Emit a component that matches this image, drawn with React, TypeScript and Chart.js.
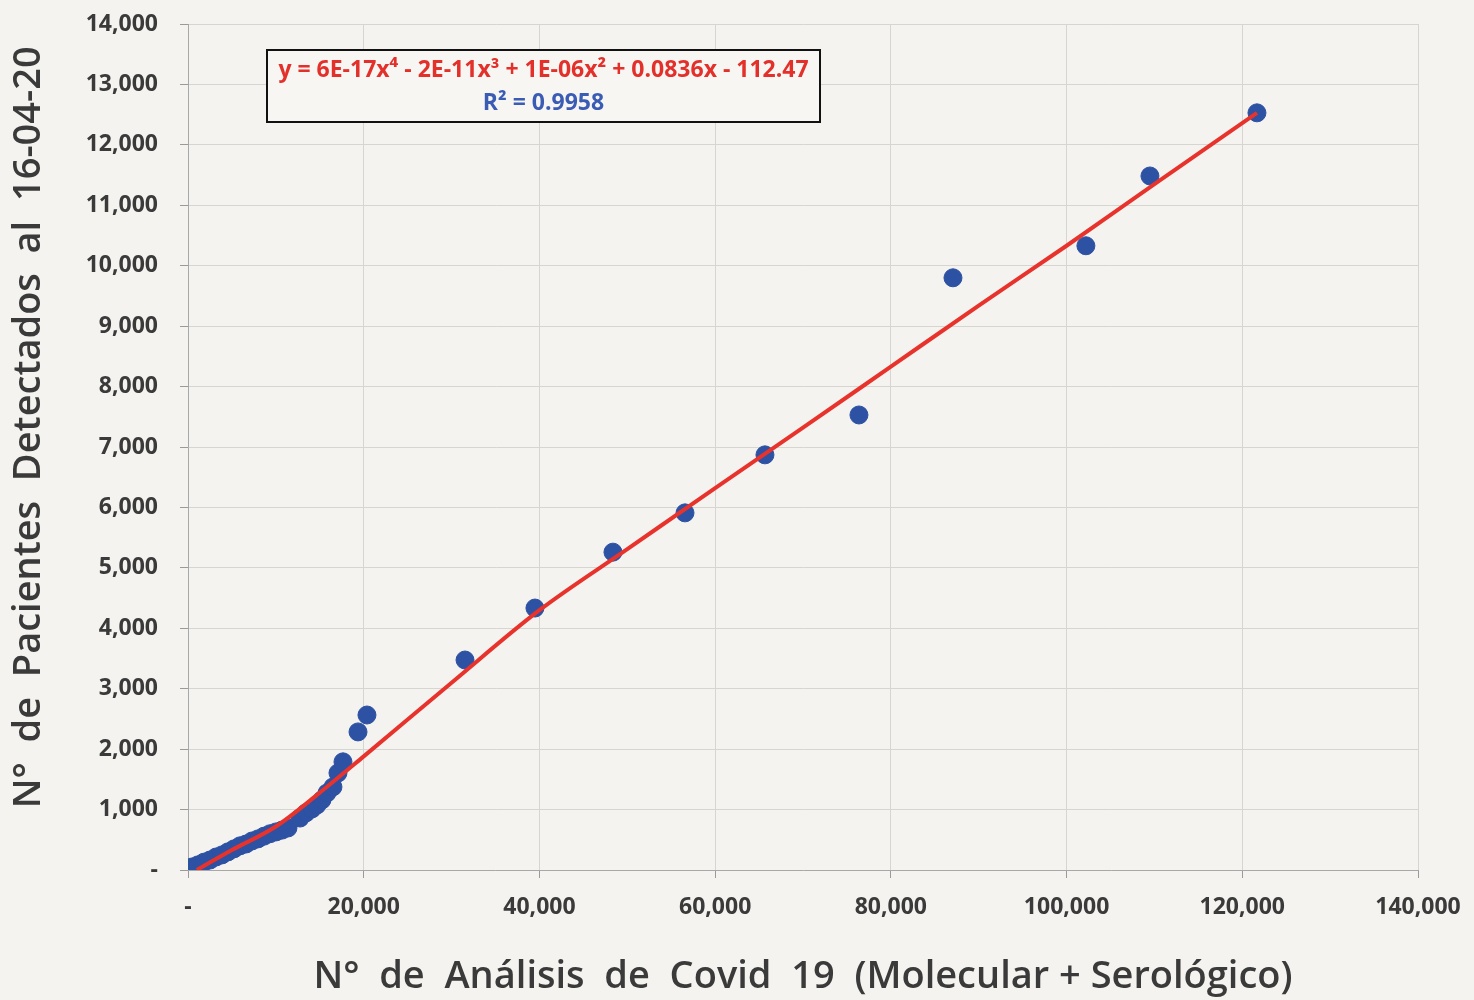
import React, { useEffect, useRef } from "react";
import { Chart, registerables } from "chart.js";

Chart.register(...registerables);

// Observed data points (N° de análisis, N° de pacientes)
const analysisX = [
  100, 455, 1140, 1820, 2500, 3190, 3870, 4550, 5240, 5920, 6600, 7280, 7970, 8650, 9330,
  10020, 10700, 11380, 12750, 13430, 14110, 14680, 15250, 15820, 16500, 17070, 17640,
  19350, 20370, 31530, 39490, 48370, 56570, 65670, 76370, 87070, 102200, 109490, 121670,
];
const patientsY = [
  20, 50, 85, 130, 165, 215, 250, 300, 350, 400, 430, 480, 515, 560, 600,
  630, 660, 695, 860, 945, 1010, 1075, 1160, 1275, 1375, 1605, 1790,
  2285, 2565, 3475, 4335, 5260, 5910, 6870, 7530, 9800, 10330, 11485, 12530,
];

// Trend line
const trendX = [1000, 5000, 10000, 15000, 20000, 30000, 40000, 50000, 60000, 70000, 80000, 90000, 100000, 110000, 121670];
const trendY = [0, 330, 720, 1280, 1880, 3100, 4300, 5310, 6320, 7320, 8330, 9340, 10330, 11350, 12530];

const xTicks = [0, 20000, 40000, 60000, 80000, 100000, 120000, 140000];
const yTicks = [0, 1000, 2000, 3000, 4000, 5000, 6000, 7000, 8000, 9000, 10000, 11000, 12000, 13000, 14000];

const equationText = "y = 6E-17x⁴ - 2E-11x³ + 1E-06x² + 0.0836x - 112.47";
const r2Text = "R² = 0.9958";
const xTitle = "N°  de  Análisis  de  Covid  19  (Molecular + Serológico)";
const yTitle = "    N°  de  Pacientes  Detectados  al  16-04-20";

const FONT = "'Open Sans', 'Noto Sans', sans-serif";

const bgPlugin = {
  id: "bg",
  beforeDraw(chart: any) {
    const ctx = chart.ctx;
    ctx.save();
    ctx.fillStyle = "#f5f3ef";
    ctx.fillRect(0, 0, chart.width, chart.height);
    ctx.restore();
  },
};

const boxPlugin = {
  id: "eqbox",
  afterDatasetsDraw(chart: any) {
    const ctx = chart.ctx;
    const ca = chart.chartArea;
    const left = ca.left + 79;
    const top = ca.top + 26;
    const w = 553;
    const h = 72;
    ctx.save();
    ctx.fillStyle = "#f7f6f2";
    ctx.fillRect(left, top, w, h);
    ctx.strokeStyle = "#111";
    ctx.lineWidth = 2;
    ctx.strokeRect(left, top, w, h);
    ctx.textAlign = "center";
    ctx.textBaseline = "middle";
    ctx.font = `bold 23px ${FONT}`;
    ctx.fillStyle = "#e3302b";
    ctx.fillText(equationText, left + w / 2, top + 20);
    ctx.fillStyle = "#3b5cb5";
    ctx.fillText(r2Text, left + w / 2, top + 53);
    ctx.restore();
  },
};

export default function App() {
  const ref = useRef<HTMLCanvasElement>(null);

  useEffect(() => {
    document.body.style.margin = "0";
    const canvas = ref.current;
    if (!canvas) return;
    const points = analysisX.map((x, i) => ({ x, y: patientsY[i] }));
    const trend = trendX.map((x, i) => ({ x, y: trendY[i] }));
    const fmt = (v: number) => (v === 0 ? "-" : v.toLocaleString("en-US"));
    const chart = new Chart(canvas, {
      type: "scatter",
      data: {
        datasets: [
          {
            label: "Tendencia",
            data: trend,
            showLine: true,
            borderColor: "#e8332d",
            borderWidth: 4,
            pointRadius: 0,
            tension: 0.4,
            cubicInterpolationMode: "monotone",
            order: 0,
          } as any,
          {
            label: "Pacientes",
            data: points,
            backgroundColor: "#2d51a3",
            borderColor: "#2d51a3",
            pointRadius: 9,
            pointHoverRadius: 9,
            order: 1,
          },
        ],
      },
      options: {
        responsive: false,
        animation: false,
        layout: { padding: { top: 24, right: 56, left: 0, bottom: 0 } },
        plugins: {
          legend: { display: false },
          tooltip: { enabled: false },
        },
        scales: {
          x: {
            type: "linear",
            min: 0,
            max: 140000,
            afterBuildTicks: (axis: any) => {
              axis.ticks = xTicks.map((v) => ({ value: v }));
            },
            afterFit: (axis: any) => {
              axis.height = 130;
              axis.paddingLeft = 0;
              axis.paddingRight = 0;
            },
            ticks: {
              callback: (v: any) => fmt(Number(v)),
              font: { family: FONT, size: 23, weight: "bold" },
              color: "#3a3a3a",
              padding: 16,
              maxRotation: 0,
            },
            grid: { color: "#d6d5d0", lineWidth: 1, tickLength: 8, tickColor: "#9a9a9a" },
            border: { color: "#a8a8a8", width: 1 },
            title: {
              display: true,
              text: xTitle,
              font: { family: FONT, size: 38, weight: "600" },
              color: "#3a3a3a",
              padding: { top: 0, bottom: 0 },
            },
          },
          y: {
            type: "linear",
            min: 0,
            max: 14000,
            afterBuildTicks: (axis: any) => {
              axis.ticks = yTicks.map((v) => ({ value: v }));
            },
            afterFit: (axis: any) => {
              axis.width = 188;
              axis.paddingTop = 0;
              axis.paddingBottom = 0;
            },
            ticks: {
              callback: (v: any) => fmt(Number(v)),
              font: { family: FONT, size: 23, weight: "bold" },
              color: "#3a3a3a",
              padding: 22,
            },
            grid: { color: "#d6d5d0", lineWidth: 1, tickLength: 8, tickColor: "#9a9a9a" },
            border: { color: "#a8a8a8", width: 1 },
            title: {
              display: true,
              text: yTitle,
              font: { family: FONT, size: 38, weight: "600" },
              color: "#3a3a3a",
              padding: { top: 6, bottom: 0 },
            },
          },
        },
      },
      plugins: [bgPlugin, boxPlugin],
    });
    return () => chart.destroy();
  }, []);

  return (
    <div style={{ width: 1474, height: 1000 }}>
      <canvas ref={ref} width={1474} height={1000} style={{ display: "block" }} />
    </div>
  );
}
